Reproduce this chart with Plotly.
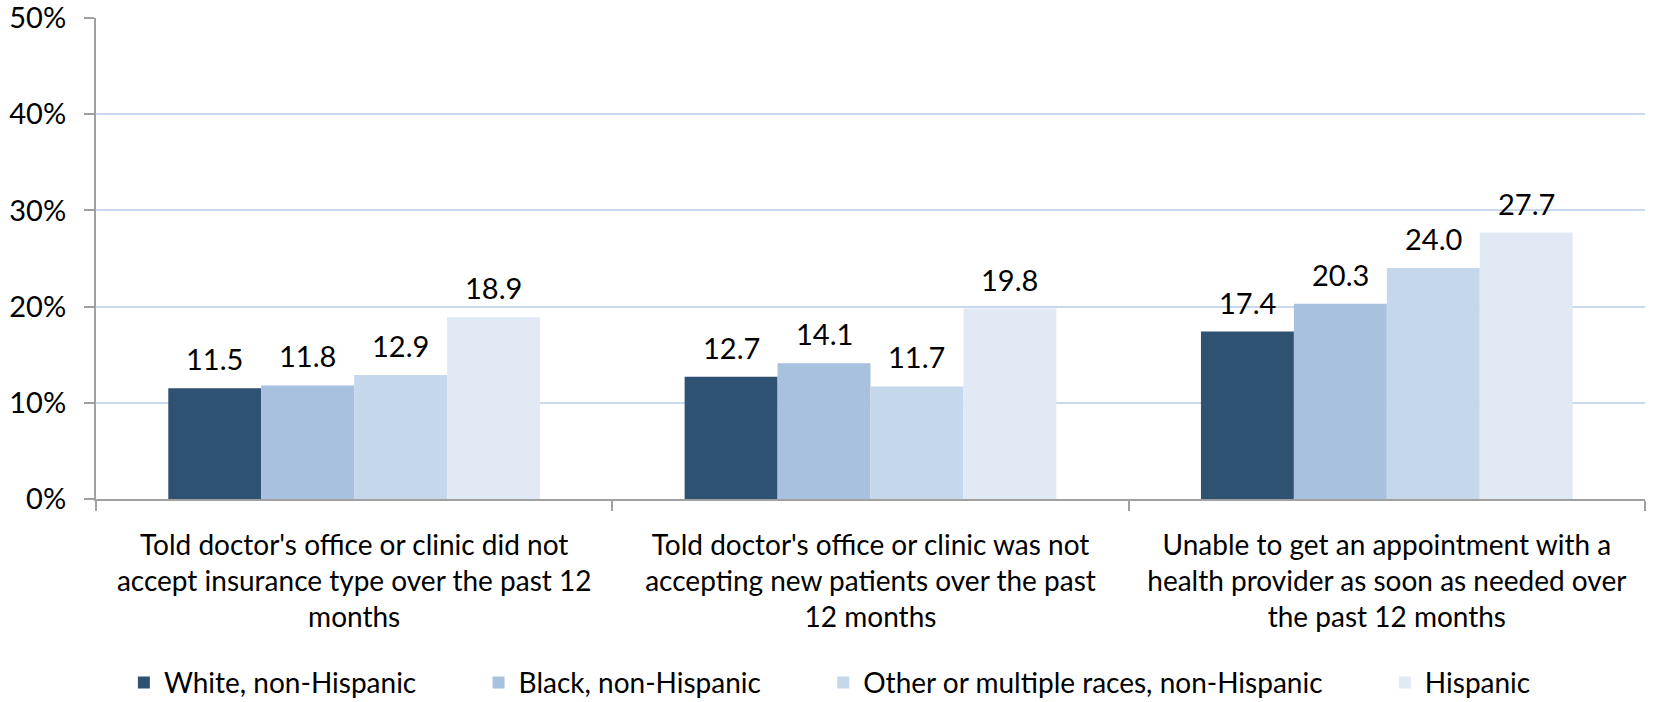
import plotly.graph_objects as go

# Categories and series
categories = [
    "Told doctor's office or clinic did not<br>accept insurance type over the past 12<br>months",
    "Told doctor's office or clinic was not<br>accepting new patients over the past<br>12 months",
    "Unable to get an appointment with a<br>health provider as soon as needed over<br>the past 12 months",
]
series_names = [
    "White, non-Hispanic",
    "Black, non-Hispanic",
    "Other or multiple races, non-Hispanic",
    "Hispanic",
]
white = [11.5, 12.7, 17.4]
black = [11.8, 14.1, 20.3]
other = [12.9, 11.7, 24.0]
hispanic = [18.9, 19.8, 27.7]

colors = ["#2F5172", "#A7C1DE", "#C5D7EB", "#E1E9F4"]
font = "Lato, Open Sans, sans-serif"
bargap = 0.28

fig = go.Figure()
all_series = [white, black, other, hispanic]
for name, vals, col in zip(series_names, all_series, colors):
    fig.add_trace(go.Bar(
        name=name + "\u00a0" * 8, x=categories, y=vals, marker_color=col,
        marker_line_width=0,
    ))

# value labels above bars, placed in axis units of the grouped bars
w = (1 - bargap) / len(all_series)
for j, vals in enumerate(all_series):
    for i, v in enumerate(vals):
        fig.add_annotation(
            x=i + (j - (len(all_series) - 1) / 2) * w, y=v, xref="x", yref="y",
            text=f"{v:.1f}", showarrow=False, yanchor="bottom", yshift=10,
            font=dict(size=29, color="#000000"),
        )

fig.update_layout(
    width=1656, height=702,
    barmode="group", bargap=bargap, bargroupgap=0,
    plot_bgcolor="white", paper_bgcolor="white",
    font=dict(family=font, color="#000000"),
    margin=dict(l=96, r=11, t=18, b=203, autoexpand=False),
    legend=dict(orientation="h", x=0.018, xanchor="left", y=-0.382, yanchor="middle",
                font=dict(size=28), traceorder="normal", itemwidth=30),
    showlegend=True,
)
fig.update_yaxes(
    range=[0, 50], dtick=10, ticksuffix="%",
    showgrid=True, gridcolor="#C9D8EC", gridwidth=1.5,
    showline=True, linecolor="#A0A0A0", linewidth=2,
    ticks="outside", ticklen=10, tickcolor="#A0A0A0", tickwidth=2,
    tickfont=dict(size=29), zeroline=False, ticklabelstandoff=12,
    ticklabeloverflow="allow", automargin=False,
)
fig.update_xaxes(
    showline=True, linecolor="#A0A0A0", linewidth=2,
    ticks="outside", tickson="boundaries", ticklen=10, tickcolor="#A0A0A0", tickwidth=2,
    tickfont=dict(size=28), ticklabelstandoff=20, automargin=False,
)

# drop the default page margin so the figure sits at the window's corner
fig.write_html("out.html", config={"displayModeBar": False},
               post_script="document.body.style.margin='0';")
